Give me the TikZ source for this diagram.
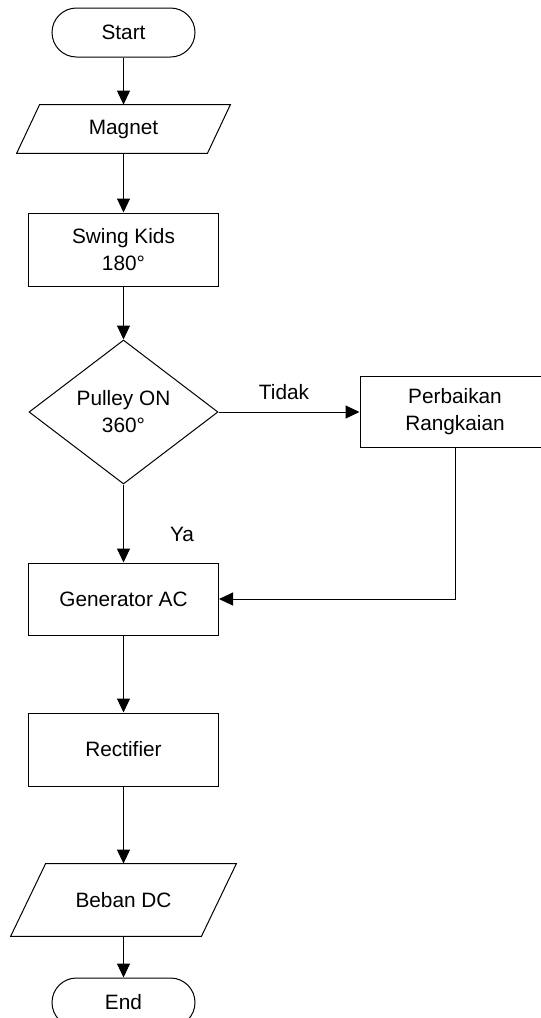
\documentclass[tikz,border=0pt]{standalone}
\usepackage{fontspec}
\setmainfont{Liberation Sans}
\usetikzlibrary{shapes.geometric,arrows.meta}
\begin{document}
\begin{tikzpicture}[x=0.5pt,y=-0.5pt,
  every node/.style={font=\fontsize{10.4}{13.5}\selectfont, align=center, inner sep=0pt},
  box/.style={draw, line width=0.5pt, minimum width=95pt, minimum height=36pt},
  term/.style={draw, line width=0.5pt, rounded corners=12.25pt, minimum width=71.5pt, minimum height=24.5pt},
  io/.style={minimum width=95pt},
  dec/.style={draw, line width=0.5pt, diamond, aspect=1.3, minimum width=94.5pt, minimum height=72pt},
  arr/.style={-{Triangle[length=7pt,width=6.5pt]}, line width=0.5pt},
  lbl/.style={},
]
\useasboundingbox (0,0) rectangle (541,1018);
\fill[white] (0,0) rectangle (541,1018);

\node[term] (start) at (123.5,32.5) {Start};

\node[io, minimum height=24pt] (magnet) at (123.5,129) {Magnet};
\draw[line width=0.5pt] ([xshift=5.75pt]magnet.north west) -- ([xshift=5.75pt]magnet.north east)
  -- ([xshift=-5.75pt]magnet.south east) -- ([xshift=-5.75pt]magnet.south west) -- cycle;

\node[box, minimum height=36.5pt] (swing) at (123.5,249.5) {Swing Kids\\180°};

\node[dec] (pulley) at (123.5,412) {Pulley ON\\360°};

\node[box, minimum height=35.5pt] (perbaikan) at (455,412) {Perbaikan\\Rangkaian};

\node[box] (generator) at (123.5,599) {Generator AC};

\node[box, minimum height=36.5pt] (rectifier) at (123.5,749.5) {Rectifier};

\node[io, minimum height=36pt] (beban) at (123.5,900) {Beban DC};
\draw[line width=0.5pt] ([xshift=8.75pt]beban.north west) -- ([xshift=8.75pt]beban.north east)
  -- ([xshift=-8.75pt]beban.south east) -- ([xshift=-8.75pt]beban.south west) -- cycle;

\node[term] (end) at (123.5,1002.5) {End};

\node[lbl] (tidak) at (284,392) {Tidak};
\node[lbl] (ya) at (182,534) {Ya};

\draw[arr] (start.south) -- (magnet.north);
\draw[arr] (magnet.south) -- (swing.north);
\draw[arr] (swing.south) -- (pulley.north);
\draw[arr] (pulley.east) -- (pulley.east -| perbaikan.west);
\draw[arr] (pulley.south) -- (generator.north);
\draw[arr] (perbaikan.south) |- (generator.east);
\draw[arr] (generator.south) -- (rectifier.north);
\draw[arr] (rectifier.south) -- (beban.north);
\draw[arr] (beban.south) -- (end.north);
\end{tikzpicture}
\end{document}
